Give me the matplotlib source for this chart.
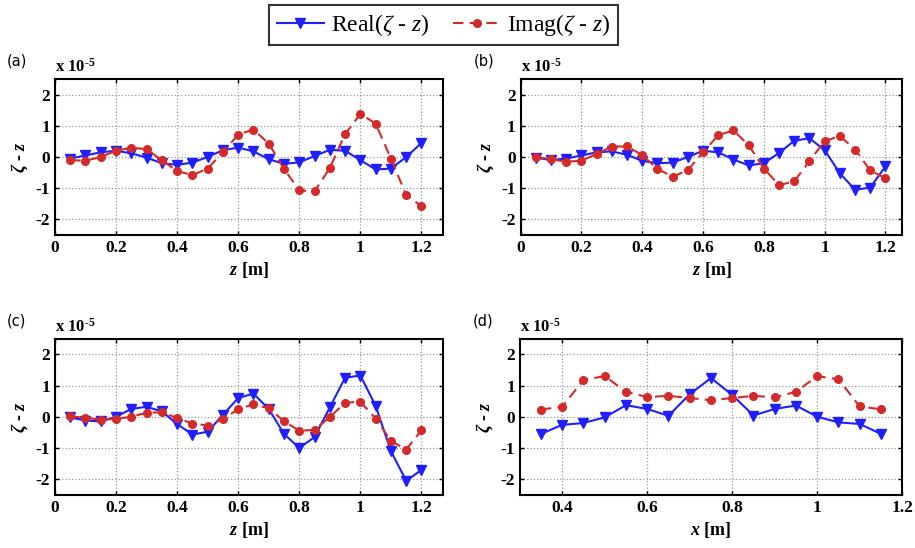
import numpy as np
import matplotlib.pyplot as plt
from matplotlib.ticker import FormatStrFormatter

plt.rcParams['font.family'] = ['Liberation Serif', 'DejaVu Serif']
plt.rcParams['axes.unicode_minus'] = False
plt.rcParams['mathtext.fontset'] = 'custom'
plt.rcParams['mathtext.rm'] = 'Liberation Serif:bold'
plt.rcParams['mathtext.it'] = 'Liberation Serif:italic:bold'
plt.rcParams['mathtext.bf'] = 'Liberation Serif:bold'
plt.rcParams['mathtext.sf'] = 'Liberation Serif:italic'

# data (x 1e-5)
z = [0.05, 0.10, 0.15, 0.20, 0.25, 0.30, 0.35, 0.40, 0.45, 0.50, 0.55, 0.60,
     0.65, 0.70, 0.75, 0.80, 0.85, 0.90, 0.95, 1.00, 1.05, 1.10, 1.15, 1.20]
x_d = [0.35, 0.40, 0.45, 0.50, 0.55, 0.60, 0.65, 0.70, 0.75, 0.80, 0.85,
       0.90, 0.95, 1.00, 1.05, 1.10, 1.15]

real_a = [-0.05, 0.05, 0.15, 0.2, 0.12, -0.02, -0.2, -0.25, -0.18, 0.0, 0.22, 0.3,
          0.18, -0.07, -0.22, -0.17, 0.03, 0.23, 0.2, -0.1, -0.4, -0.37, 0.0, 0.45]
imag_a = [-0.1, -0.12, 0.0, 0.2, 0.3, 0.25, -0.1, -0.45, -0.58, -0.37, 0.15, 0.72,
          0.88, 0.43, -0.38, -1.07, -1.1, -0.35, 0.73, 1.38, 1.07, -0.05, -1.22, -1.57]

real_b = [-0.02, -0.1, -0.05, 0.05, 0.15, 0.18, 0.07, -0.12, -0.2, -0.18, 0.0, 0.2,
          0.15, -0.08, -0.27, -0.2, 0.13, 0.52, 0.6, 0.22, -0.52, -1.05, -0.98, -0.3]
imag_b = [0.0, -0.07, -0.15, -0.12, 0.1, 0.33, 0.34, 0.06, -0.38, -0.63, -0.42, 0.15,
          0.7, 0.85, 0.38, -0.37, -0.9, -0.78, -0.13, 0.51, 0.67, 0.24, -0.43, -0.68]

real_c = [-0.02, -0.12, -0.15, 0.0, 0.25, 0.32, 0.17, -0.23, -0.57, -0.48, 0.06, 0.6,
          0.74, 0.25, -0.55, -1.0, -0.65, 0.3, 1.25, 1.32, 0.35, -1.1, -2.05, -1.7]
imag_c = [0.02, -0.04, -0.09, -0.07, 0.0, 0.13, 0.14, -0.04, -0.22, -0.28, -0.08, 0.24,
          0.4, 0.27, -0.14, -0.45, -0.42, -0.01, 0.45, 0.48, -0.06, -0.77, -1.05, -0.43]

real_d = [-0.55, -0.26, -0.2, -0.02, 0.37, 0.25, 0.03, 0.72, 1.24, 0.7, 0.04, 0.25,
          0.36, 0.0, -0.18, -0.23, -0.55]
imag_d = [0.23, 0.32, 1.18, 1.3, 0.8, 0.63, 0.67, 0.6, 0.53, 0.6, 0.67, 0.62,
          0.8, 1.3, 1.2, 0.33, 0.24]

panels = [
    ('(a)', z, real_a, imag_a, [0.060, 0.571, 0.424, 0.285], (0, 1.27), r'$z$ [m]'),
    ('(b)', z, real_b, imag_b, [0.569, 0.571, 0.417, 0.285], (0, 1.255), r'$z$ [m]'),
    ('(c)', z, real_c, imag_c, [0.060, 0.097, 0.424, 0.285], (0, 1.27), r'$z$ [m]'),
    ('(d)', x_d, real_d, imag_d, [0.568, 0.097, 0.418, 0.285], (0.3, 1.2), r'$x$ [m]'),
]

blue = '#1f1fff'
red = '#d42a2a'

fig = plt.figure(figsize=(9.15, 5.48), dpi=100)
for tag, xs, re, im, pos, xl, xlab in panels:
    ax = fig.add_axes(pos)
    l1, = ax.plot(xs, re, '-', color=blue, lw=1.5, marker='v', ms=7,
                  label=r'Real($\mathsf{\zeta}$ - $\mathsf{z}$)')
    l2, = ax.plot(xs, im, '--', color=red, lw=1.5, marker='o', ms=5.5,
                  dashes=(5, 3), label=r'Imag($\mathsf{\zeta}$ - $\mathsf{z}$)')
    ax.set_xlim(*xl)
    ax.set_ylim(-2.5, 2.5)
    ax.set_yticks([-2, -1, 0, 1, 2])
    if tag == '(d)':
        ax.set_xticks([0.4, 0.6, 0.8, 1.0, 1.2])
    else:
        ax.set_xticks([0, 0.2, 0.4, 0.6, 0.8, 1.0, 1.2])
    ax.xaxis.set_major_formatter(FormatStrFormatter('%g'))
    ax.grid(True, color='#999999', linestyle=':', linewidth=0.9)
    ax.tick_params(direction='in', length=3, labelsize=12.5, width=1,
                   top=True, right=True)
    for lab in ax.get_xticklabels() + ax.get_yticklabels():
        lab.set_fontweight('bold')
    for s in ax.spines.values():
        s.set_linewidth(1.5)
    ax.set_xlabel(xlab, fontsize=13, fontweight='bold', labelpad=3)
    ax.set_ylabel(r'$\zeta$ - $z$', fontsize=13, fontweight='bold', labelpad=4)
    ax.text(0.0, 1.02, r'x 10$^{\text{-5}}$', transform=ax.transAxes, fontsize=12,
            ha='left', va='bottom', fontweight='bold')
    ax.text(-0.124, 1.065, tag, transform=ax.transAxes, fontsize=10.5,
            family='DejaVu Sans', ha='left', va='bottom')

leg = fig.legend(handles=[l1, l2], loc='upper center', bbox_to_anchor=(0.485, 1.012),
                 ncol=2, fontsize=17, frameon=True, fancybox=False, edgecolor='black',
                 handlelength=2.0, columnspacing=1.0, handletextpad=0.3,
                 borderpad=0.3)
leg.get_frame().set_linewidth(1.5)

fig.savefig('out.png', dpi=100)
